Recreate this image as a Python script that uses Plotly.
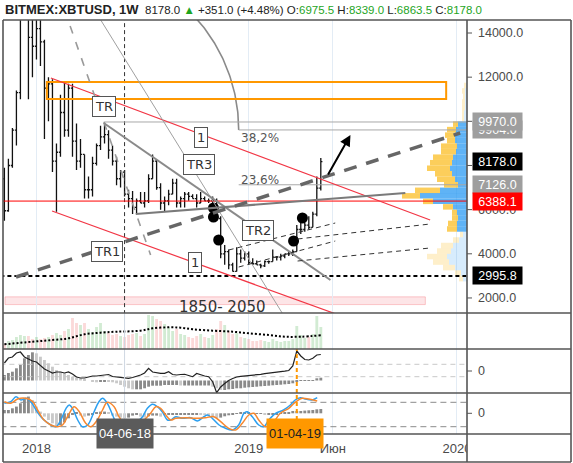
import numpy as np
import pandas as pd
import plotly.graph_objects as go

# ---------------------------------------------------------------- data
START = pd.Timestamp("2017-11-06")          # first weekly bar (week index 0)

OPEN = [7400, 5950, 8000, 9600, 11300, 15200, 19000, 13800, 13400, 14200,
        13600, 11500, 11700, 8200, 8600, 10400, 9600, 11500, 9100, 8200,
        8500, 6900, 6900, 8100, 8900, 9300, 9400, 8700, 8200, 7400,
        7700, 6700, 6500, 6100, 6400, 6300, 6400, 7400, 8200, 7000,
        6300, 6400, 6700, 7200, 6300, 6500, 6700, 6600, 6500, 6300,
        6500, 6400, 6400, 6400, 5600, 4000, 4100, 3500, 3200, 4000,
        3800, 4000, 3600, 3550, 3500, 3450, 3650, 3650, 3850, 3850,
        3900, 4000, 4000, 4100, 5100, 5100, 5300, 5200, 5800, 6975.5]
HIGH = [7900, 8300, 9700, 11400, 17200, 19700, 19200, 16500, 17200, 15000,
        13700, 12000, 11900, 9000, 11200, 11800, 11700, 11700, 9900, 9200,
        8500, 7500, 8400, 9000, 9800, 9950, 9600, 8900, 8400, 7800,
        7800, 6900, 6850, 6500, 6800, 6800, 7600, 8500, 8250, 7200,
        6600, 6900, 7400, 7400, 6600, 6800, 6800, 6700, 6700, 6800,
        6600, 6500, 6600, 6500, 5700, 4400, 4200, 3600, 4300, 4200,
        4100, 4100, 3800, 3700, 3550, 3700, 3700, 4200, 3900, 4000,
        4000, 4100, 4200, 5300, 5500, 5400, 5700, 5900, 7500, 8339]
LOW = [5500, 5900, 7900, 8900, 11000, 15000, 11000, 12000, 12800, 12500,
       9200, 10000, 7700, 5900, 8400, 9300, 9300, 8400, 7800, 7900,
       6500, 6500, 6600, 8000, 8700, 9000, 8300, 8000, 7100, 7000,
       6600, 6100, 5800, 5800, 6300, 6100, 6300, 7400, 6900, 6000,
       5900, 6200, 6700, 6100, 6100, 6100, 6400, 6500, 6100, 6300,
       6400, 6300, 6300, 5500, 3800, 3500, 3300, 3200, 3200, 3600,
       3700, 3500, 3500, 3500, 3350, 3400, 3550, 3650, 3700, 3700,
       3800, 3900, 3900, 4100, 4900, 5000, 5100, 5200, 5700, 6863.5]
CLOSE = [5950, 8000, 9600, 11300, 15200, 19000, 13800, 13400, 14200, 13600,
         11500, 11700, 8200, 8600, 10400, 9600, 11500, 9100, 8200, 8500,
         6900, 6900, 8100, 8900, 9300, 9400, 8700, 8200, 7400, 7700,
         6700, 6500, 6100, 6400, 6300, 6400, 7400, 8200, 7000, 6300,
         6400, 6700, 7200, 6300, 6500, 6700, 6600, 6500, 6300, 6500,
         6400, 6400, 6400, 5600, 4000, 4100, 3500, 3200, 4000, 3800,
         4000, 3600, 3550, 3500, 3450, 3650, 3650, 3850, 3850, 3900,
         4000, 4000, 4100, 5100, 5100, 5300, 5200, 5800, 6975.5, 8178]

VOLUME = [5, 8, 9, 12, 14, 13, 13, 10, 12, 10,
          11, 12, 14, 16, 14, 18, 20, 31, 26, 24,
          26, 20, 17, 22, 26, 18, 16, 14, 15, 13,
          12, 14, 15, 16, 13, 15, 34, 33, 30, 28,
          25, 22, 18, 20, 15, 14, 12, 11, 13, 15,
          12, 11, 14, 20, 28, 24, 18, 15, 16, 12,
          11, 10, 8, 8, 9, 8, 7, 10, 8, 7,
          8, 8, 10, 23, 14, 11, 12, 15, 33, 22]
VOL_MA_WEEK = [0, 7, 12, 16, 20, 24, 28, 34, 37, 41, 44, 47, 52, 57, 61, 66, 70, 74, 79]
VOL_MA = [4.7, 7.3, 9, 10.7, 14.7, 16.3, 17.3, 18.3, 20.7, 21.7, 21.3, 19.7,
          18.3, 17.3, 15.7, 14, 12.3, 12.3, 13.7]

MACD_LINE = [8, 13, 14, 18, 19, 14, 12, 10, 9, 5,
             2, 0, -2, -1, -1, -2, -1, -3, -6, -7,
             -7, -6, -5, -5, -4.5, -4, -3.5, -5.5, -6, -6.5,
             -7, -7.3, -6.5, -5.5, -4, -2, 2.7, -1, -2, -2.3,
             -2.3, -0.7, -3.5, -4, -3.5, -3.3, -4.5, -5.7, -2.5, -4,
             -5, -5.7, -10.7, -21.7, -16, -12.5, -9.5, -7.5, -6, -5.3,
             -5, -4.7, -4.3, -3.8, -3.3, -2.7, -2, -1.5, -1, -0.6,
             -0.2, 0.5, 5, 20, 15, 11.5, 11, 12.7, 16, 16.5]
MACD_BASE = -9.5
MACD_HIST = [-4, -2, -0.7, 2.7, 6, 12.7, 16, 18.7, 17.7, 14.3,
             11, 7.7, 4.3, 1, -0.7, -2.3, -4, -5.7, -6.7, -7.3,
             -8.5, -9.5, -10.7, -11.3, -10.7, -10.7, -11, -11.3, -12.3, -14,
             -15.7, -17.3, -18.3, -18.3, -18.3, -17.3, -15.7, -14.7, -14.7, -14.7,
             -14, -14, -14, -14, -14.5, -14.5, -14.5, -14.5, -14.5, -14.5,
             -14.5, -14.5, -15.7, -17.3, -19, -19, -18.3, -18, -17.3, -17.3,
             -16.7, -16.3, -16, -15.7, -15.3, -15, -14.7, -14.3, -14, -13.7,
             -13.3, -13, -12.3, -10.3, -9.8, -9.6, -9.6, -9.4, -7.3, -6.7]
MACD_LEVELS = [6.7, -5.7]

STOCH_HIST = [3.3, 3.3, 5, 6.7, 10, 15, 16.7, 13.3, 6.7, 1.7,
              -3.3, -6.7, -10, -13.3, -11.7, -9, -5, -1.7, 0.5, -2.3,
              -3.3, -2.3, -1, 0.5, 1.7, 1.7, 0.5, -2.3, -3.3, -4.3,
              -5, -4.3, -2.3, -1.7, -3.3, -4.3, -3, -2.3, -2.3, -3.3,
              -1.7, -1.7, -1.5, -1.5, -1.5, -1, -1, -1, -1, -1.5,
              -2, -3, -4, -5, -4.3, -3, -2, -1, -0.5, 0.5,
              0.5, 0.5, -0.5, -0.5, -0.5, -1, -1, -1, -1, -0.5,
              0.5, 1, 2.3, 2.3, 2.3, 2.7, 3, 3.3, 4, 4.3]
K_WEEK = [0, 1.6, 2.9, 4.1, 5.4, 6.6, 7.9, 9.1, 10.4, 11.6,
          12.9, 14.1, 15.4, 16.2, 17.0, 18.3, 19.5, 20.8, 22.4, 23.6,
          24.5, 25.7, 27.0, 28.2, 29.5, 30.7, 32.0, 33.2, 34.5, 35.7,
          37.0, 38.2, 39.4, 40.7, 41.5, 42.8, 44.4, 46.5, 48.2, 49.8,
          50.7, 51.9, 53.6, 55.2, 56.9, 58.5, 59.8, 60.6, 61.9, 63.5,
          64.8, 66.0, 67.7, 69.7, 71.4, 72.6, 73.9, 75.1, 76.8, 78.1]
K_VAL = [10, 11.6, 16.6, 13.3, 15, 11.6, 3.3, -3.4, -8.4, -11.7,
         -13.4, -6.7, 5, 8.3, 5, -6.7, -13.4, -11.7, 1.6, 11.6,
         15, 10, -1.7, -11.7, -15, -14.4, -11.7, -8.4, -3.4, 5,
         9, 6.6, 1.6, -6.7, -6.7, -3.4, -5, -4.4, -7.7, -3.4,
         -1.7, -5, -11.7, -15, -16.7, -11.7, 0, 1.6, -3.4, -11.7,
         -13.4, -6.7, 0, 3.3, 8.3, 13.3, 15.6, 14.3, 13.3, 15.6]
D_WEEK = [0, 1.6, 3.3, 5.4, 7.1, 8.3, 9.9, 11.6, 13.3, 14.5,
          16.2, 17.4, 18.7, 20.3, 21.6, 23.2, 24.5, 25.7, 27.4, 28.6,
          30.3, 32.0, 33.6, 34.9, 36.5, 37.8, 39.0, 40.3, 41.5, 42.8,
          45.3, 47.7, 50.2, 52.3, 54.0, 56.0, 57.7, 59.4, 61.0, 62.3,
          63.5, 65.2, 66.9, 68.9, 71.0, 72.6, 74.3, 76.0, 78.1]
D_VAL = [11.6, 10, 14.3, 15, 11.6, 3.3, -6.7, -11.7, -13.4, -11.7,
         0, 6.6, 1.6, -10, -13.4, -6.7, 3.3, 11, 6.6, -3.4,
         -11.7, -14.4, -11.7, -6.7, 0, 6.6, 5, -1.7, -6.7, -5,
         -4.4, -5, -4.4, -3.4, -8.4, -15, -16.7, -10, -1.7, 0,
         -6.7, -13.4, -10, 0, 5, 11, 15, 14.3, 12.3]
STOCH_LEVELS = [11, -13.4]

PROFILE_PRICE = [2875, 3125, 3375, 3625, 3875, 4125, 4375, 4625, 4875, 5125,
                 5375, 5625, 5875, 6125, 6375, 6625, 6875, 7125, 7375, 7625,
                 7875, 8125, 8375, 8625, 8875, 9125, 9375, 9625, 9875, 10125,
                 10375, 10625, 10875, 11125, 11375, 11625]
PROFILE_UP = [4, 6, 12, 18, 20, 16, 14, 8, 4, 10, 10, 9, 10, 14, 34, 47, 27, 9,
              12, 15, 17, 15, 14, 11, 10, 12, 12, 11, 9, 3, 3, 2, 2, 2, 2, 1]
PROFILE_DOWN = [4, 6, 12, 16, 20, 14, 12, 6, 3, 10, 9, 6, 5, 10, 10, 18, 25, 14,
                18, 17, 23, 22, 20, 15, 16, 8, 10, 9, 5, 2, 2, 3, 3, 2, 3, 2]
PROFILE_RANGE = (5000, 10000)

# drawings (week index, price)
UPPER_RED = ([11.6, 106.3], [11962, 5531])
LOWER_RED = ([11.9, 88.9], [5938, 871])
TREND_DASH = ([2.9, 113.8], [2949, 9471])
STEEP_DASH = ([15.0, 36.5], [15042, 3946])
TR3_LINE = ([22.5, 70.9], [15042, 866])
TR_LINE = ([24.8, 81.4], [9924, 2814])
TR1_LINE = ([32.8, 100.1], [5803, 6754])
TR2_LINES = [([56.0, 82.6], [4172, 5395]), ([58.5, 82.6], [3402, 4580]),
             ([73.2, 106.3], [4670, 5350]), ([73.2, 106.3], [3674, 4263])]
FIB_PRICE = [9970.0, 9610.0, 7126.0]
FIB_START = [24.8, 58.5, 58.5]
ARC_CENTER = (16.6, 9607)
ARC_RADIUS = (41.9, 7609)
ZONE = ([10.6, 110.3], [11011, 11781])
BAND = ([0.15, 105.1], [1700, 2050])
RED_LEVEL = 6388.1
SUPPORT_LEVEL = 2995.8
DOT_WEEK = [52.2, 52.2, 53.5, 72.2, 74.4]
DOT_PRICE = [6074, 5667, 4625, 4580, 5621]
ARROW = ([80.6, 86.4], [7524, 9380])
CROSS_WEEK = 30
MARK_WEEK = 73
BOX_LABELS = [("TR", 24.8, 10649), ("TR3", 48.5, 8067), ("TR1", 25.6, 4082),
              ("TR2", 63.4, 5078), ("1", 49.0, 9290), ("1", 47.7, 3629)]
FREE_TEXT = [("38,2%", 63.9, 9245), ("23,6%", 63.9, 7342)]
BAND_TEXT = ("1850- 2050", 54.5, 1610)

PRICE_TICKS = [14000, 12000, 10000, 8000, 6000, 4000, 2000]
PRICE_TICK_SHOWN = [14000, 12000, 6000, 4000, 2000]     # others sit under marker boxes
MARKERS = [(9904.0, "#9e9e9e", "white", -6), (9970.0, "#9e9e9e", "white", 0),
           (8178.0, "#000000", "white", 0), (7126.0, "#9e9e9e", "white", 0),
           (6388.1, "#ff0000", "white", 0), (2995.8, "#000000", "white", 0)]
TIME_TICK_WEEK = [8, 61, 82, 113]
TIME_TICK_TEXT = ["2018", "2019", "Июн", "2020"]

# ---------------------------------------------------------------- helpers
W, H = 573, 463


def ds(w):
    return (START + pd.Timedelta(days=7.0 * float(w))).strftime("%Y-%m-%d %H:%M:%S")


def dsl(ws):
    return [ds(w) for w in ws]


def px(x):
    return x / W


def py(y):
    return 1 - y / H


weeks = list(range(len(OPEN)))
dates = dsl(weeks)
fig = go.Figure()

# ---------------------------------------------------------------- main pane
fig.add_shape(type="rect", xref="x", yref="y", x0=ds(BAND[0][0]), x1=ds(BAND[0][1]),
              y0=BAND[1][0], y1=BAND[1][1], fillcolor="rgba(242,54,69,0.13)",
              line=dict(color="rgba(242,54,69,0.25)", width=1), layer="below")

t = np.radians(np.linspace(0, 56, 80))
fig.add_trace(go.Scatter(x=dsl(ARC_CENTER[0] + ARC_RADIUS[0] * np.cos(t)),
                         y=ARC_CENTER[1] + ARC_RADIUS[1] * np.sin(t), mode="lines",
                         line=dict(color="#8a8a8a", width=1.6), hoverinfo="skip"))

fig.add_trace(go.Ohlc(x=dates, open=OPEN, high=HIGH, low=LOW, close=CLOSE,
                      increasing=dict(line=dict(color="#111111", width=1.3)),
                      decreasing=dict(line=dict(color="#111111", width=1.3)),
                      tickwidth=0.4, hoverinfo="skip"))

fig.add_trace(go.Scatter(x=[ds(CROSS_WEEK)] * 2, y=[0, 20000], mode="lines",
                         line=dict(color="#333333", width=1, dash="4px,3px"), hoverinfo="skip"))
fig.add_trace(go.Scatter(x=dsl(DOT_WEEK), y=DOT_PRICE, mode="markers",
                         marker=dict(color="black", size=11), hoverinfo="skip"))

# volume profile on an overlaid axis, bars grow leftwards from the price scale
bright = [PROFILE_RANGE[0] <= p <= PROFILE_RANGE[1] for p in PROFILE_PRICE]
up_col = ["rgba(33,150,243,0.72)" if b else "rgba(33,150,243,0.18)" for b in bright]
dn_col = ["rgba(251,192,45,0.78)" if b else "rgba(251,192,45,0.25)" for b in bright]
fig.add_trace(go.Bar(orientation="h", y=PROFILE_PRICE, x=PROFILE_UP, base=0, width=250,
                     marker=dict(color=up_col, line_width=0), xaxis="x2", yaxis="y",
                     hoverinfo="skip"))
fig.add_trace(go.Bar(orientation="h", y=PROFILE_PRICE, x=PROFILE_DOWN, base=PROFILE_UP,
                     width=250, marker=dict(color=dn_col, line_width=0), xaxis="x2",
                     yaxis="y", hoverinfo="skip"))


def seg(ws, ps, color, width, dash=None):
    fig.add_shape(type="line", xref="x", yref="y", x0=ds(ws[0]), x1=ds(ws[1]),
                  y0=ps[0], y1=ps[1], line=dict(color=color, width=width, dash=dash),
                  layer="above")


fig.add_shape(type="rect", xref="x", yref="y", x0=ds(ZONE[0][0]), x1=ds(ZONE[0][1]),
              y0=ZONE[1][0], y1=ZONE[1][1], line=dict(color="#ff9800", width=2),
              layer="above")
seg([-1, 117], [RED_LEVEL] * 2, "#ff0000", 1)
seg([-1, 117], [SUPPORT_LEVEL] * 2, "#000000", 2, "4px,3px")
for p, s in zip(FIB_PRICE, FIB_START):
    seg([s, 117], [p, p], "#a8a8a8", 1)
seg(*UPPER_RED, "#f23645", 1.2)
seg(*LOWER_RED, "#f23645", 1.2)
seg(*STEEP_DASH, "#9a9a9a", 1.6, "8px,9px")
seg(*TR3_LINE, "#a0a0a0", 1)
seg(*TR_LINE, "#8a8a8a", 2)
seg(*TR1_LINE, "#7a7a7a", 2)
for ws, ps in TR2_LINES:
    seg(ws, ps, "#333333", 1, "5px,4px")
seg(*TREND_DASH, "#666666", 3.5, "13px,10px")

fig.add_annotation(x=ds(ARROW[0][1]), y=ARROW[1][1], ax=ds(ARROW[0][0]), ay=ARROW[1][0],
                   xref="x", yref="y", axref="x", ayref="y", text="", showarrow=True,
                   arrowhead=2, arrowsize=1.1, arrowwidth=2, arrowcolor="black")
for txt, w, p in BOX_LABELS:
    fig.add_annotation(x=ds(w), y=p, xref="x", yref="y", text=txt, showarrow=False,
                       font=dict(family="DejaVu Sans", size=13, color="#333"),
                       bgcolor="white", bordercolor="#555", borderwidth=1, borderpad=2)
for txt, w, p in FREE_TEXT:
    fig.add_annotation(x=ds(w), y=p, xref="x", yref="y", text=txt, showarrow=False,
                       font=dict(family="DejaVu Sans", size=12, color="#555"))
fig.add_annotation(x=ds(BAND_TEXT[1]), y=BAND_TEXT[2], xref="x", yref="y",
                   text=BAND_TEXT[0], showarrow=False,
                   font=dict(family="DejaVu Sans", size=15, color="#333"))

# ---------------------------------------------------------------- volume pane
vcol = ["rgba(76,175,80,0.25)" if c >= o else "rgba(239,83,80,0.22)"
        for o, c in zip(OPEN, CLOSE)]
fig.add_trace(go.Bar(x=dates, y=VOLUME, width=5 * 86400000, marker=dict(color=vcol, line_width=0),
                     yaxis="y2", hoverinfo="skip"))
fig.add_trace(go.Scatter(x=dsl(VOL_MA_WEEK), y=VOL_MA, mode="lines", yaxis="y2",
                         line=dict(color="black", width=2, dash="2px,2px", shape="spline"),
                         hoverinfo="skip"))


def hist_colors(vals):
    out = []
    for k, v in enumerate(vals):
        prev = vals[k - 1] if k else v
        out.append("#8a8a8a" if v >= prev else "#c9c9c9")
    return out


# ---------------------------------------------------------------- MACD pane
macd_h = [v - MACD_BASE for v in MACD_HIST]
fig.add_trace(go.Bar(x=dates, y=macd_h, base=MACD_BASE, width=5 * 86400000,
                     marker=dict(color=hist_colors(MACD_HIST), line_width=0),
                     yaxis="y3", hoverinfo="skip"))
for lv in MACD_LEVELS:
    fig.add_trace(go.Scatter(x=[ds(-1), ds(117)], y=[lv, lv], mode="lines", yaxis="y3",
                             line=dict(color="#c8c8c8", width=1, dash="5px,4px"),
                             hoverinfo="skip"))
fig.add_trace(go.Scatter(x=dates, y=MACD_LINE, mode="lines", yaxis="y3",
                         line=dict(color="#222222", width=1.2), hoverinfo="skip"))

# ---------------------------------------------------------------- stochastic pane
fig.add_trace(go.Bar(x=dates, y=STOCH_HIST, width=5 * 86400000,
                     marker=dict(color=hist_colors(STOCH_HIST), line_width=0),
                     yaxis="y4", hoverinfo="skip"))
for lv in STOCH_LEVELS:
    fig.add_trace(go.Scatter(x=[ds(-1), ds(117)], y=[lv, lv], mode="lines", yaxis="y4",
                             line=dict(color="#8a8a8a", width=1, dash="6px,4px"),
                             hoverinfo="skip"))
fig.add_trace(go.Scatter(x=dsl(K_WEEK), y=K_VAL, mode="lines", yaxis="y4",
                         line=dict(color="#2b9ff0", width=1.5, shape="spline"), hoverinfo="skip"))
fig.add_trace(go.Scatter(x=dsl(D_WEEK), y=D_VAL, mode="lines", yaxis="y4",
                         line=dict(color="#f7882f", width=1.5, shape="spline"), hoverinfo="skip"))

for ya, rng in (("y2", [0, 36]), ("y3", [-22, 22]), ("y4", [-20.7, 20.3])):
    fig.add_trace(go.Scatter(x=[ds(CROSS_WEEK)] * 2, y=rng, mode="lines", yaxis=ya,
                             line=dict(color="#cfd8e2", width=1), hoverinfo="skip"))
for ya, rng in (("y3", [-22, 22]), ("y4", [-20.7, 20.3])):
    fig.add_trace(go.Scatter(x=[ds(MARK_WEEK)] * 2, y=rng, mode="lines", yaxis=ya,
                             line=dict(color="#ff9800", width=2, dash="4px,3px"),
                             hoverinfo="skip"))

# ---------------------------------------------------------------- time strip
fig.add_trace(go.Scatter(x=dsl(TIME_TICK_WEEK), y=[0.45] * 4, text=TIME_TICK_TEXT,
                         mode="text", xaxis="x3", yaxis="y5", cliponaxis=True,
                         textfont=dict(family="Liberation Sans", size=13, color="#4a4a4a"),
                         hoverinfo="skip"))
fig.add_annotation(x=ds(CROSS_WEEK), y=py(448.5), xref="x", yref="paper", text="04-06-18",
                   showarrow=False, width=54, height=27, borderpad=1, bgcolor="#5b5b5b",
                   font=dict(family="Liberation Sans", size=13, color="white"))
fig.add_annotation(x=ds(MARK_WEEK - 0.5), y=py(448.5), xref="x", yref="paper", text="01-04-19",
                   showarrow=False, width=54, height=27, borderpad=1, bgcolor="#ff9800",
                   font=dict(family="Liberation Sans", size=13, color="#222"))

# ---------------------------------------------------------------- price scale
for p in PRICE_TICKS:
    fig.add_shape(type="line", xref="paper", yref="y", x0=px(467), x1=px(472), y0=p, y1=p,
                  line=dict(color="#555", width=1))
for p in PRICE_TICK_SHOWN:
    fig.add_annotation(x=px(476), y=p, xref="paper", yref="y", xanchor="left",
                       text=f"{p:.1f}", showarrow=False,
                       font=dict(family="Liberation Sans", size=12.5, color="#4a4a4a"))
for p, bg, fg, shift in MARKERS:
    fig.add_annotation(x=px(472), y=p, xref="paper", yref="y", xanchor="left", yshift=shift,
                       text=f"{p:.1f}", showarrow=False, width=47, height=15, borderpad=1,
                       bgcolor=bg, font=dict(family="Liberation Sans", size=12.5, color=fg))
for ya in ("y3", "y4"):
    fig.add_shape(type="line", xref="paper", yref=ya, x0=px(467), x1=px(472), y0=0, y1=0,
                  line=dict(color="#555", width=1))
    fig.add_annotation(x=px(476), y=0, xref="paper", yref=ya, xanchor="left", text="0",
                       showarrow=False,
                       font=dict(family="Liberation Sans", size=12.5, color="#4a4a4a"))

# ---------------------------------------------------------------- frame
frame = dict(color="#555555", width=1.6)
for y in (20, 313, 349, 393, 434):
    fig.add_shape(type="line", xref="paper", yref="paper", x0=px(3), x1=px(571),
                  y0=py(y), y1=py(y), line=frame)
for x in (3, 467, 571):
    fig.add_shape(type="line", xref="paper", yref="paper", x0=px(x), x1=px(x),
                  y0=py(20), y1=py(462), line=frame)
fig.add_shape(type="line", xref="paper", yref="paper", x0=px(3), x1=px(571),
              y0=py(462), y1=py(462), line=frame)

G = "#1ea51e"
header = ("<span style='font-size:13px'><b>BITMEX:XBTUSD, 1W</b></span>  8178.0 "
          "<span style='color:%s'>▲</span> +351.0 (+4.48%%) "
          "O:<span style='color:%s'>6975.5</span> H:<span style='color:%s'>8339.0</span> "
          "L:<span style='color:%s'>6863.5</span> C:<span style='color:%s'>8178.0</span>"
          % (G, G, G, G, G))
fig.add_annotation(x=px(3), y=py(9.5), xref="paper", yref="paper", xanchor="left",
                   yanchor="middle", text=header, showarrow=False,
                   font=dict(family="Liberation Sans", size=11.5, color="#222"))

# ---------------------------------------------------------------- layout
X0, X1 = -0.35, 115.5
XDOM = [px(3), px(467)]
fig.update_layout(
    width=W, height=H, margin=dict(l=0, r=0, t=0, b=0),
    paper_bgcolor="white", plot_bgcolor="white", showlegend=False, hovermode=False,
    barmode="overlay", font=dict(family="Liberation Sans"),
    xaxis=dict(type="date", domain=XDOM, range=[ds(X0), ds(X1)],
               tickvals=dsl(TIME_TICK_WEEK), showticklabels=False, ticks="",
               showgrid=True, gridcolor="#e3ecf5", gridwidth=1, zeroline=False,
               showline=False, rangeslider=dict(visible=False), anchor="y4"),
    xaxis2=dict(overlaying="x", anchor="y", range=[464, 0], visible=False),
    xaxis3=dict(type="date", domain=XDOM, range=[ds(X0), ds(X1)], anchor="y5",
                visible=False),
    yaxis=dict(domain=[py(313), py(20)], range=[1319, 14589], visible=False, anchor="x"),
    yaxis2=dict(domain=[py(349), py(313)], range=[0, 36], visible=False, anchor="x"),
    yaxis3=dict(domain=[py(393), py(349)], range=[-22, 22], visible=False, anchor="x"),
    yaxis4=dict(domain=[py(434), py(393)], range=[-20.7, 20.3], visible=False, anchor="x"),
    yaxis5=dict(domain=[0, py(434)], range=[0, 1], visible=False, anchor="x3"),
)

fig.write_html("out.html", config={"displayModeBar": False})
